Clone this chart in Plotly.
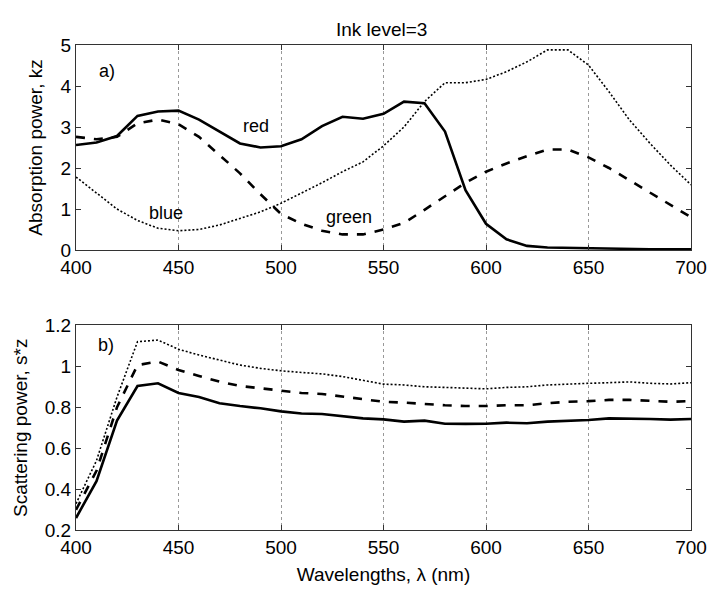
import plotly.graph_objects as go

wl = list(range(400, 701, 10))

# Absorption power (top)
abs_red = [2.56, 2.62, 2.78, 3.27, 3.38, 3.40, 3.18, 2.90, 2.60, 2.50, 2.53, 2.70, 3.02, 3.25, 3.20, 3.32,
           3.62, 3.58, 2.89, 1.46, 0.64, 0.26, 0.10, 0.06, 0.05, 0.04, 0.03, 0.03, 0.02, 0.02, 0.02]
abs_green = [2.76, 2.70, 2.76, 3.09, 3.18, 3.07, 2.76, 2.32, 1.87, 1.36, 0.88, 0.64, 0.47, 0.38, 0.38, 0.50,
             0.66, 0.98, 1.30, 1.64, 1.91, 2.11, 2.29, 2.45, 2.45, 2.26, 2.00, 1.70, 1.42, 1.12, 0.80]
abs_blue = [1.78, 1.38, 1.00, 0.72, 0.53, 0.47, 0.50, 0.61, 0.77, 0.93, 1.14, 1.38, 1.64, 1.91, 2.15, 2.54,
            3.00, 3.62, 4.08, 4.08, 4.16, 4.35, 4.59, 4.88, 4.88, 4.51, 3.86, 3.17, 2.60, 2.07, 1.59]

# Scattering power (bottom)
sc_red = [0.26, 0.44, 0.735, 0.904, 0.917, 0.870, 0.850, 0.820, 0.806, 0.795, 0.780, 0.770, 0.767, 0.755,
          0.746, 0.741, 0.730, 0.735, 0.720, 0.719, 0.720, 0.725, 0.722, 0.730, 0.734, 0.738, 0.746, 0.746,
          0.743, 0.740, 0.743]
sc_green = [0.30, 0.49, 0.80, 1.006, 1.023, 0.982, 0.953, 0.925, 0.904, 0.893, 0.880, 0.870, 0.865, 0.852,
            0.842, 0.827, 0.823, 0.816, 0.810, 0.806, 0.806, 0.810, 0.810, 0.820, 0.827, 0.830, 0.836, 0.836,
            0.830, 0.827, 0.830]
sc_blue = [0.33, 0.54, 0.85, 1.120, 1.128, 1.083, 1.055, 1.030, 1.006, 0.990, 0.978, 0.970, 0.963, 0.950,
           0.933, 0.913, 0.909, 0.900, 0.897, 0.893, 0.890, 0.897, 0.900, 0.909, 0.914, 0.917, 0.920, 0.924,
           0.917, 0.914, 0.920]

x_ticks = [400, 450, 500, 550, 600, 650, 700]
top_ticks = [0, 1, 2, 3, 4, 5]
bot_ticks = [0.2, 0.4, 0.6, 0.8, 1.0, 1.2]
bot_ticklabels = ["0.2", "0.4", "0.6", "0.8", "1", "1.2"]

FONT = "Liberation Sans, Arial, sans-serif"

fig = go.Figure()

styles = [("solid", 2.6), ("dash", 2.6), ("2px,2px", 1.6)]
for ys, (dash, w) in zip([abs_red, abs_green, abs_blue], styles):
    fig.add_trace(go.Scatter(x=wl, y=ys, mode="lines", line=dict(color="black", dash=dash, width=w),
                             xaxis="x", yaxis="y", showlegend=False))
for ys, (dash, w) in zip([sc_red, sc_green, sc_blue], styles):
    fig.add_trace(go.Scatter(x=wl, y=ys, mode="lines", line=dict(color="black", dash=dash, width=w),
                             xaxis="x2", yaxis="y2", showlegend=False))

xdom = [76 / 710, 691 / 710]
top_dom = [1 - 250 / 589, 1 - 45 / 589]
bot_dom = [1 - 530.3 / 589, 1 - 325.3 / 589]

TICKSZ = 19
TITLESZ = 19

common_x = dict(range=[400, 700], tickvals=x_ticks, showgrid=True, gridcolor="#999999", griddash="dot",
                gridwidth=1, zeroline=False, showline=True, linecolor="#333333", linewidth=1, mirror="ticks",
                ticks="inside", ticklen=5, tickcolor="#333333",
                tickfont=dict(family=FONT, size=TICKSZ, color="black"),
                domain=xdom, automargin=False)
common_y = dict(showgrid=False, zeroline=False, showline=True, linecolor="#333333", linewidth=1, mirror="ticks",
                ticks="inside", ticklen=5, tickcolor="#333333",
                tickfont=dict(family=FONT, size=TICKSZ, color="black"), automargin=False)

fig.update_layout(
    width=710, height=589, margin=dict(l=0, r=0, t=0, b=0, autoexpand=False),
    paper_bgcolor="white", plot_bgcolor="white",
    xaxis=dict(**common_x, anchor="y"),
    yaxis=dict(**common_y, range=[0, 5], tickvals=top_ticks, domain=top_dom, anchor="x",
               title=dict(text="Absorption power, kz", font=dict(family=FONT, size=TITLESZ, color="black"),
                          standoff=12)),
    xaxis2=dict(**common_x, anchor="y2",
                title=dict(text="Wavelengths, λ (nm)", font=dict(family=FONT, size=TITLESZ, color="black"),
                           standoff=10)),
    yaxis2=dict(**common_y, range=[0.2, 1.2], tickvals=bot_ticks, ticktext=bot_ticklabels, domain=bot_dom,
                anchor="x2",
                title=dict(text="Scattering power, s*z", font=dict(family=FONT, size=TITLESZ, color="black"),
                           standoff=12)),
    showlegend=False,
)

ann_font = dict(family=FONT, size=18, color="black")
fig.add_annotation(text="Ink level=3", xref="paper", yref="paper", x=382 / 710, y=1 - 17 / 589,
                   showarrow=False, font=dict(family=FONT, size=19, color="black"))
fig.add_annotation(text="a)", x=415, y=4.37, xref="x", yref="y", showarrow=False, font=ann_font)
fig.add_annotation(text="red", x=488, y=3.02, xref="x", yref="y", showarrow=False, font=ann_font)
fig.add_annotation(text="blue", x=444, y=0.9, xref="x", yref="y", showarrow=False, font=ann_font)
fig.add_annotation(text="green", x=533, y=0.8, xref="x", yref="y", showarrow=False, font=ann_font)
fig.add_annotation(text="b)", x=414.6, y=1.104, xref="x2", yref="y2", showarrow=False, font=ann_font)

fig.write_html("out.html")
